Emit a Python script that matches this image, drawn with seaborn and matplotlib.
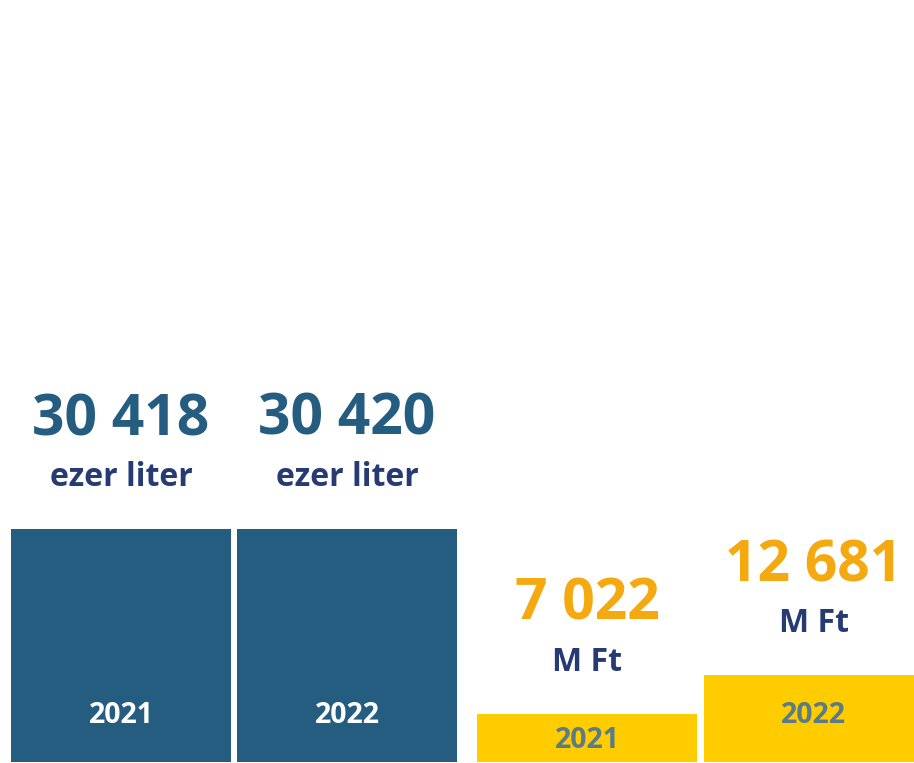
import matplotlib
matplotlib.use("Agg")
import matplotlib.pyplot as plt
import seaborn as sns
import pandas as pd

# ---- data ----
years = ["2021", "2022"]
volume = [30418, 30420]          # ezer liter
value_mft = [7022, 12681]        # M Ft
volume_labels = ["30 418", "30 420"]
value_labels = ["7 022", "12 681"]
volume_unit = "ezer liter"
value_unit = "M Ft"

# ---- style ----
sns.set_theme(style="white")
plt.rcParams["font.family"] = ["Open Sans", "DejaVu Sans"]
plt.rcParams["font.weight"] = "bold"

BLUE = "#245d80"
NAVY = "#263b74"
YELLOW = "#ffcc00"
ORANGE = "#f4a910"
GREYBLUE = "#5b7b89"

W, H = 914, 763
fig = plt.figure(figsize=(W / 100, H / 100), dpi=100)
fig.patch.set_facecolor("white")

def panel(left_px, width_px, vals, ymax, bar_color, num_labels, unit, num_color, year_color):
    ax = fig.add_axes([left_px / W, 1 / H, width_px / W, 762 / H])
    df = pd.DataFrame({"year": years, "v": vals})
    sns.barplot(data=df, x="year", y="v", ax=ax, color=bar_color, saturation=1,
                width=0.973, linewidth=0)
    ax.set_xlim(-0.5, 1.5)
    ax.set_ylim(0, ymax)
    ax.axis("off")
    px_per_unit = 762 / ymax
    for i, p in enumerate(ax.patches):
        cx = p.get_x() + p.get_width() / 2
        top = p.get_height()
        ax.annotate(num_labels[i], (cx, top), xytext=(0, 94), textcoords="offset pixels",
                    ha="center", va="baseline", fontsize=41, fontweight="bold", color=num_color)
        ax.annotate(unit, (cx, top), xytext=(0, 43), textcoords="offset pixels",
                    ha="center", va="baseline", fontsize=23, fontweight="bold", color=NAVY)
        hpx = top * px_per_unit
        yoff = min(39, hpx - 34)
        ax.annotate(years[i], (cx, 0), xytext=(0, yoff), textcoords="offset pixels",
                    ha="center", va="baseline", fontsize=20.5, fontweight="bold", color=year_color)
    return ax

panel(8, 452, volume, 99480, BLUE, volume_labels, volume_unit, BLUE, "white")
panel(474, 453, value_mft, 111070, YELLOW, value_labels, value_unit, ORANGE, GREYBLUE)

fig.savefig("out.png", dpi=100, facecolor="white")
